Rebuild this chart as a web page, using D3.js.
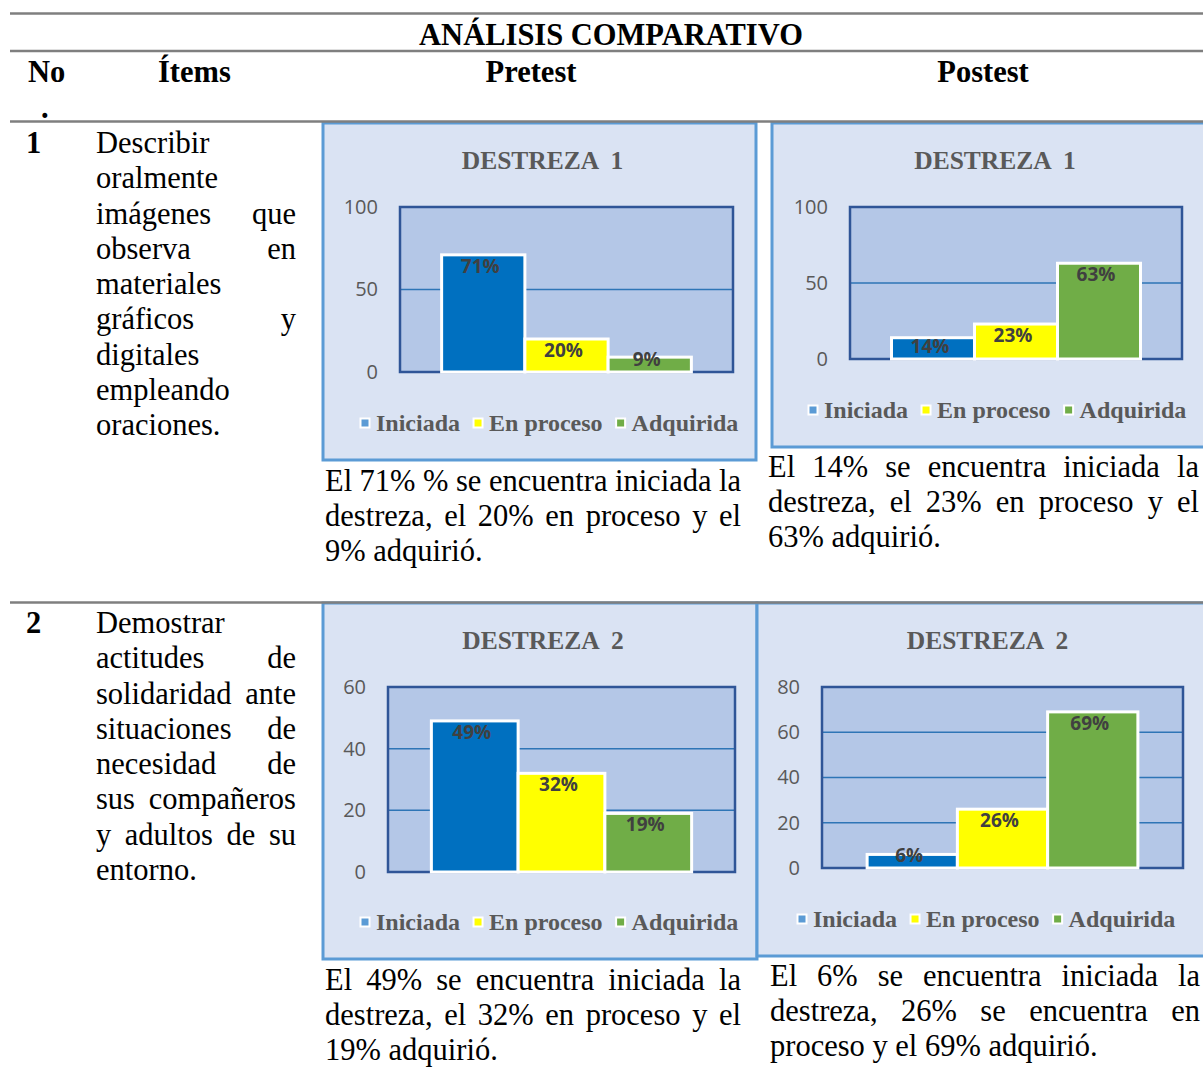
<!DOCTYPE html>
<html>
<head>
<meta charset="utf-8">
<script src="https://cdn.jsdelivr.net/npm/d3@7"></script>
<style>
  body { margin: 0; background: #fff; }
  svg { display: block; }
</style>
</head>
<body>
<svg width="1203" height="1090"></svg>
<script>
// ---- data ----
var categories = ["Iniciada", "En proceso", "Adquirida"];
var pretest1 = [71, 20, 9];
var postest1 = [14, 23, 63];
var pretest2 = [49, 32, 19];
var postest2 = [6, 26, 69];
var ticks1 = [0, 50, 100];
var ticks2pre = [0, 20, 40, 60];
var ticks2post = [0, 20, 40, 60, 80];
var chartTitles = ["DESTREZA  1", "DESTREZA  2"];

var tableTitle = "ANÁLISIS COMPARATIVO";
var headers = ["No", "Ítems", "Pretest", "Postest"];
var itemNumbers = ["1", "2"];
var item1Lines = ["Describir", "oralmente", "imágenes que", "observa en", "materiales",
                  "gráficos y", "digitales", "empleando", "oraciones."];
var item2Lines = ["Demostrar", "actitudes de", "solidaridad ante", "situaciones de",
                  "necesidad de", "sus compañeros", "y adultos de su", "entorno."];
var pre1Text = ["El 71% % se encuentra iniciada la", "destreza, el 20% en proceso y el", "9% adquirió."];
var post1Text = ["El 14% se encuentra iniciada la", "destreza, el 23% en proceso y el", "63% adquirió."];
var pre2Text = ["El 49% se encuentra iniciada la", "destreza, el 32% en proceso y el", "19% adquirió."];
var post2Text = ["El 6% se encuentra iniciada la", "destreza, 26% se encuentra en", "proceso y el 69% adquirió."];

// ---- setup ----
var svg = d3.select("svg");
var serif = "'Liberation Serif','Times New Roman',serif";
var sans = "'Open Sans','Liberation Sans',sans-serif";
var bodyFont = "30.5px " + serif;
var boldFont = "bold 30.5px " + serif;

var barColor = d3.scaleOrdinal().domain(categories).range(["#0070c0", "#ffff00", "#70ad47"]);
var keyColor = d3.scaleOrdinal().domain(categories).range(["#5b9bd5", "#ffff00", "#70ad47"]);

var charts = [
  { values: pretest1, ticks: ticks1, title: chartTitles[0],
    box: [323, 123, 756, 460], plot: [400, 207, 733, 372], legendX: 360.5 },
  { values: postest1, ticks: ticks1, title: chartTitles[0],
    box: [772, 123, 1212, 447], plot: [850, 207, 1182, 359], legendX: 808.5 },
  { values: pretest2, ticks: ticks2pre, title: chartTitles[1],
    box: [323, 603, 757, 959], plot: [388, 687, 735, 872], legendX: 360.5 },
  { values: postest2, ticks: ticks2post, title: chartTitles[1],
    box: [757, 603, 1212, 956], plot: [822, 687, 1183, 868], legendX: 797.5 }
];

charts.forEach(drawChart);

function drawChart(c) {
  var g = svg.append("g");
  var b = c.box, p = c.plot;
  var maxV = d3.max(c.ticks);

  g.append("rect")
      .attr("x", b[0]).attr("y", b[1])
      .attr("width", b[2] - b[0]).attr("height", b[3] - b[1])
      .attr("fill", "#dae3f3")
      .attr("stroke", "#5b9bd5")
      .attr("stroke-width", 3);

  g.append("text")
      .attr("x", (b[0] + b[2]) / 2 + 3)
      .attr("y", b[1] + 37)
      .attr("text-anchor", "middle")
      .attr("dominant-baseline", "central")
      .attr("fill", "#595959")
      .style("font", "bold 25.5px " + serif)
      .style("white-space", "pre")
      .text(c.title);

  var y = d3.scaleLinear().domain([0, maxV]).range([p[3], p[1]]);
  var w = p[2] - p[0];
  var x = d3.scaleBand()
      .domain(categories)
      .range([p[0] + w * 0.125, p[2] - w * 0.125]);

  g.append("rect")
      .attr("x", p[0]).attr("y", p[1])
      .attr("width", w).attr("height", p[3] - p[1])
      .attr("fill", "#b4c7e7");

  g.selectAll(".grid")
    .data(c.ticks.filter(function(t) { return t > 0 && t < maxV; }))
    .enter().append("line")
      .attr("x1", p[0]).attr("x2", p[2])
      .attr("y1", function(d) { return y(d); })
      .attr("y2", function(d) { return y(d); })
      .attr("stroke", "#2e75b6")
      .attr("stroke-width", 1.5);

  g.append("rect")
      .attr("x", p[0]).attr("y", p[1])
      .attr("width", w).attr("height", p[3] - p[1])
      .attr("fill", "none")
      .attr("stroke", "#2f5597")
      .attr("stroke-width", 2.5);

  var axis = g.append("g")
      .attr("transform", "translate(" + p[0] + ",0)")
      .call(d3.axisLeft(y).tickValues(c.ticks).tickSize(0).tickPadding(22));
  axis.select(".domain").remove();
  axis.selectAll("text")
      .style("font-family", sans)
      .style("font-size", "20px")
      .attr("fill", "#595959");

  var rows = categories.map(function(cat, i) { return { cat: cat, v: c.values[i] }; });

  g.selectAll(".bar")
    .data(rows)
    .enter().append("rect")
      .attr("x", function(d) { return x(d.cat); })
      .attr("y", function(d) { return y(d.v); })
      .attr("width", x.bandwidth())
      .attr("height", function(d) { return y(0) - y(d.v); })
      .attr("fill", function(d) { return barColor(d.cat); })
      .attr("stroke", "#fff")
      .attr("stroke-width", 3);

  g.selectAll(".lbl")
    .data(rows)
    .enter().append("text")
      .attr("x", function(d) { return x(d.cat) + x.bandwidth() / 2 - 3; })
      .attr("y", function(d) { return Math.min(y(d.v) + 11, y(0) - 13); })
      .attr("text-anchor", "middle")
      .attr("dominant-baseline", "central")
      .attr("fill", "#404040")
      .style("font", "bold 19px " + sans)
      .text(function(d) { return d.v + "%"; });

  var ly = b[3] - 37, lx = c.legendX;
  categories.forEach(function(cat) {
    g.append("rect")
        .attr("x", lx).attr("y", ly - 4.5)
        .attr("width", 9).attr("height", 9)
        .attr("fill", keyColor(cat))
        .attr("stroke", "#fff")
        .attr("stroke-width", 2);
    var t = g.append("text")
        .attr("x", lx + 15.5).attr("y", ly)
        .attr("dominant-baseline", "central")
        .attr("fill", "#595959")
        .style("font", "bold 24px " + serif)
        .text(cat);
    lx += 15.5 + t.node().getComputedTextLength() + 13.5;
  });
}

// justified block of text, last line left aligned
function justify(lines, x0, x1, y0, step) {
  lines.forEach(function(line, i) {
    var words = line.split(" ");
    var yy = y0 + i * step;
    var last = i === lines.length - 1;
    var nodes = words.map(function(wd) {
      return svg.append("text").attr("y", yy).style("font", bodyFont).attr("fill", "#000").text(wd);
    });
    var widths = nodes.map(function(n) { return n.node().getComputedTextLength(); });
    var gap = (!last && words.length > 1)
      ? (x1 - x0 - d3.sum(widths)) / (words.length - 1)
      : 7.6;
    var xx = x0;
    nodes.forEach(function(n, k) { n.attr("x", xx); xx += widths[k] + gap; });
  });
}

// ---- table text ----
svg.append("text")
    .attr("x", 611).attr("y", 45)
    .attr("text-anchor", "middle")
    .style("font", boldFont)
    .text(tableTitle);

var headX = [28, 158, 531, 983];
var headAnchor = ["start", "start", "middle", "middle"];
headers.forEach(function(h, i) {
  svg.append("text")
      .attr("x", headX[i]).attr("y", 82)
      .attr("text-anchor", headAnchor[i])
      .style("font", boldFont)
      .text(h);
});
svg.append("text").attr("x", 41).attr("y", 118).style("font", boldFont).text(".");

svg.append("text").attr("x", 26).attr("y", 153).style("font", boldFont).text(itemNumbers[0]);
svg.append("text").attr("x", 26).attr("y", 633).style("font", boldFont).text(itemNumbers[1]);

justify(item1Lines, 96, 296, 153, 35.25);
justify(item2Lines, 96, 296, 633, 35.25);
justify(pre1Text, 325, 741, 491, 35.2);
justify(post1Text, 768, 1199, 477, 35.2);
justify(pre2Text, 325, 741, 990, 35.2);
justify(post2Text, 770, 1200, 986, 35.2);

// ---- table rules ----
[13.5, 51, 121.5, 602.5].forEach(function(ry) {
  svg.append("line")
      .attr("x1", 10).attr("x2", 1203)
      .attr("y1", ry).attr("y2", ry)
      .attr("stroke", "#7f7f7f")
      .attr("stroke-width", 2.5);
});
</script>
</body>
</html>
